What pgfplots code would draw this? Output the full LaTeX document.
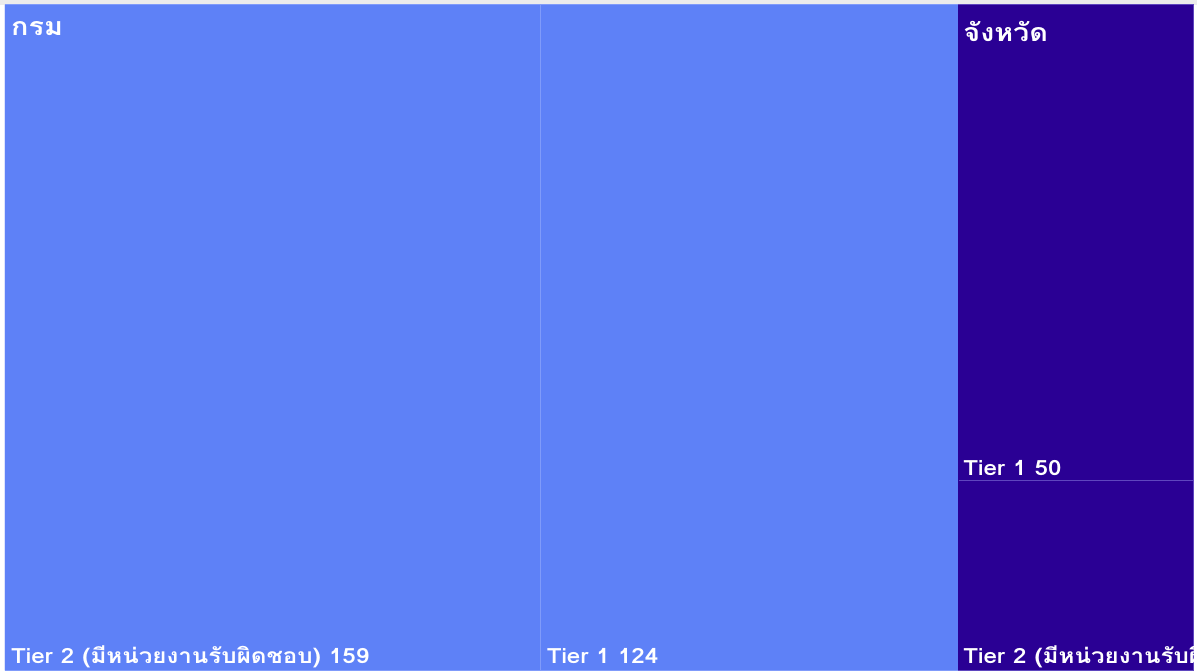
\documentclass[border=0pt]{standalone}
\usepackage{pgfplots}
\pgfplotsset{compat=1.18}
\usepackage{fontspec}
\newfontfamily\thaifont[Script=Thai, FakeStretch=1.15]{Loma}
\definecolor{cblue}{RGB}{94,129,247}
\definecolor{cblueline}{RGB}{128,155,250}
\definecolor{cdark}{RGB}{42,0,148}
\definecolor{cdarkline}{RGB}{95,70,190}
\definecolor{framegray}{RGB}{236,236,236}
\tikzset{
  lbl/.style={font=\thaifont\bfseries\fontsize{21}{24}\selectfont, text=white, inner sep=0pt},
  ttl/.style={font=\thaifont\bfseries\fontsize{25}{28}\selectfont, text=white, inner sep=0pt},
}
\begin{document}
\begin{tikzpicture}[x=1pt,y=1pt]
\fill[white] (0,0) rectangle (1197,670);
\fill[framegray] (0,665) rectangle (1197,670);
\begin{axis}[
  at={(5pt,0pt)}, anchor=south west,
  scale only axis, width=1189pt, height=665pt,
  xmin=0, xmax=353, ymin=0, ymax=70,
  hide axis, clip=true,
]
% group: กรม
\addplot[fill=cblue, draw=cblueline, line width=1pt] coordinates {(0,0) (159,0) (159,70) (0,70)} -- cycle;
\addplot[fill=cblue, draw=cblueline, line width=1pt] coordinates {(159,0) (283,0) (283,70) (159,70)} -- cycle;
% group: จังหวัด
\addplot[fill=cdark, draw=cdarkline, line width=1pt] coordinates {(283,20) (353,20) (353,70) (283,70)} -- cycle;
\addplot[fill=cdark, draw=cdarkline, line width=1pt] coordinates {(283,0) (353,0) (353,20) (283,20)} -- cycle;
\draw[cblue, line width=1.2pt] (axis cs:0,0) -- (axis cs:0,70);
\draw[cdark, line width=1.2pt] (axis cs:283,0) -- (axis cs:283,70);
% labels
\node[ttl, anchor=north west] at (axis cs:0,70) [xshift=6pt, yshift=-16pt] {กรม};
\node[ttl, anchor=north west] at (axis cs:283,70) [xshift=5pt, yshift=-16pt] {จังหวัด};
\node[lbl, anchor=base west] at (axis cs:0,0) [xshift=6pt, yshift=7pt] {Tier 2 (มีหน่วยงานรับผิดชอบ) 159};
\node[lbl, anchor=base west] at (axis cs:159,0) [xshift=6pt, yshift=7pt] {Tier 1 124};
\node[lbl, anchor=base west] at (axis cs:283,20) [xshift=5pt, yshift=5pt] {Tier 1 50};
\node[lbl, anchor=base west] at (axis cs:283,0) [xshift=5pt, yshift=7pt] {Tier 2 (มีหน่วยงานรับผิดชอบ) 20};
\end{axis}
\end{tikzpicture}
\end{document}
